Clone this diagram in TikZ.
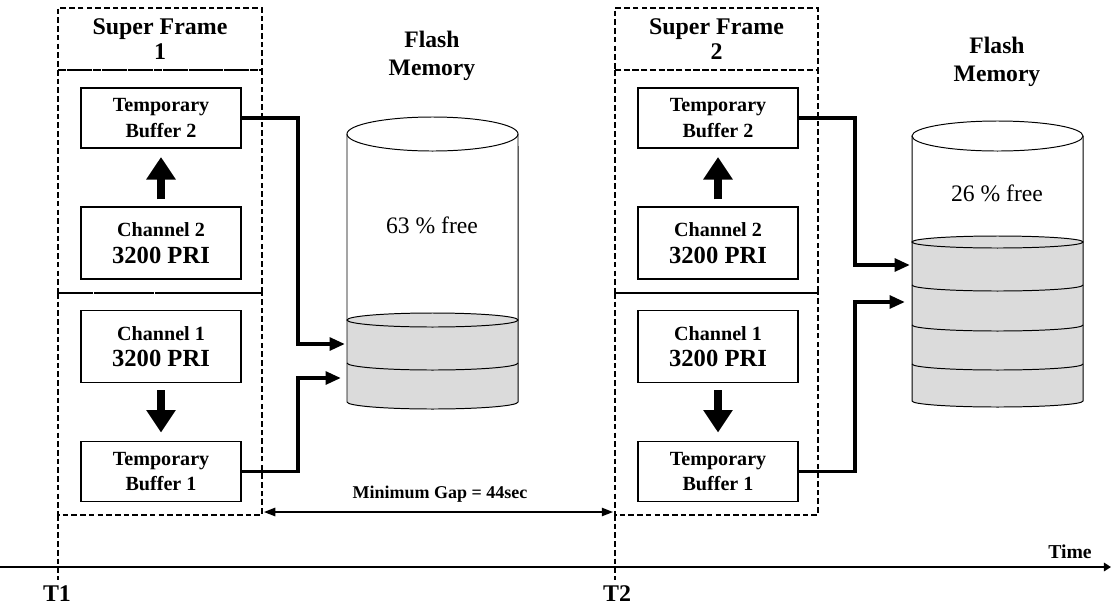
\documentclass[tikz,border=0pt]{standalone}
\usepackage{fontspec}
\setmainfont{Liberation Serif}
\usetikzlibrary{arrows.meta,calc}
\tikzset{
  unitbox/.style={draw,line width=0.8pt,minimum width=4cm,minimum height=1.5cm,align=center,
    font=\fontsize{14.3}{18}\selectfont\bfseries},
  chanbox/.style={unitbox,minimum height=1.8cm},
  framebox/.style={draw,line width=0.9pt,dash pattern=on 4pt off 2.2pt},
  frametitle/.style={framebox,minimum width=5.1cm,minimum height=1.55cm,align=center,
    font=\fontsize{17}{18}\selectfont\bfseries},
  feed/.style={line width=2.8pt,-{Triangle[length=11pt,width=9pt]}},
  bigarrow/.style={line width=5pt,-{Triangle[length=16pt,width=20pt]},shorten <=5pt,shorten >=6pt},
  memline/.style={line width=0.7pt},
  memfill/.style={fill=black!14},
  label/.style={align=center,font=\fontsize{16.8}{20}\selectfont\bfseries}
}
\newcommand{\pri}[1]{Channel #1\\[1pt]{\fontsize{17.5}{20}\selectfont 3200 PRI}}
\begin{document}
\begin{tikzpicture}[x=0.025cm,y=-0.025cm]
  \useasboundingbox (0,0) rectangle (1112,607);

  % super frame 1
  \node[frametitle] (sf1) at (160,39) {Super Frame\\1};
  \draw[framebox] (58,70) rectangle (262,293);
  \draw[framebox] (58,293) rectangle (262,515);
  \node[unitbox] (tb2a) at (161,118) {Temporary\\Buffer 2};
  \node[chanbox] (ch2a) at (161,243) {\pri{2}};
  \node[chanbox] (ch1a) at (161,346.5) {\pri{1}};
  \node[unitbox] (tb1a) at (161,471.5) {Temporary\\Buffer 1};
  \draw[bigarrow] (ch2a.north) -- (tb2a.south);
  \draw[bigarrow] (ch1a.south) -- (tb1a.north);

  % super frame 2
  \node[frametitle,minimum width=5.075cm] (sf2) at (716.5,39) {Super Frame\\2};
  \draw[framebox] (615,70) rectangle (818,293);
  \draw[framebox] (615,293) rectangle (818,515);
  \node[unitbox] (tb2b) at (718,118) {Temporary\\Buffer 2};
  \node[chanbox] (ch2b) at (718,243) {\pri{2}};
  \node[chanbox] (ch1b) at (718,346.5) {\pri{1}};
  \node[unitbox] (tb1b) at (718,471.5) {Temporary\\Buffer 1};
  \draw[bigarrow] (ch2b.north) -- (tb2b.south);
  \draw[bigarrow] (ch1b.south) -- (tb1b.north);

  % flash memory 1
  \node[label] (fm1) at (432,56) {Flash\\Memory};
  \fill[memfill] (347,320) -- (347,402) arc[start angle=180,end angle=360,x radius=2.1375cm,y radius=0.175cm]
    -- (518,320) arc[start angle=0,end angle=180,x radius=2.1375cm,y radius=0.175cm] -- cycle;
  \draw[memline] (347,134) -- (347,402) arc[start angle=180,end angle=360,x radius=2.1375cm,y radius=0.175cm] -- (518,134);
  \draw[memline] (432.5,134) ellipse[x radius=2.1375cm,y radius=0.425cm];
  \draw[memline] (432.5,320) ellipse[x radius=2.1375cm,y radius=0.175cm];
  \draw[memline] (347,363) arc[start angle=180,end angle=360,x radius=2.1375cm,y radius=0.175cm];
  \node[font=\fontsize{16.8}{20}\selectfont] (free1) at (432,225) {63 \% free};
  \coordinate (m1a) at (345,344);
  \coordinate (m1b) at (341,378);

  % flash memory 2
  \node[label] (fm2) at (997,62) {Flash\\Memory};
  \fill[memfill] (912,242) -- (912,401) arc[start angle=180,end angle=360,x radius=2.1375cm,y radius=0.15cm]
    -- (1083,242) arc[start angle=0,end angle=180,x radius=2.1375cm,y radius=0.15cm] -- cycle;
  \draw[memline] (912,136) -- (912,401) arc[start angle=180,end angle=360,x radius=2.1375cm,y radius=0.15cm] -- (1083,136);
  \draw[memline] (997.5,136) ellipse[x radius=2.1375cm,y radius=0.375cm];
  \draw[memline] (997.5,242) ellipse[x radius=2.1375cm,y radius=0.15cm];
  \foreach \y in {285,325,364}
    \draw[memline] (912,\y) arc[start angle=180,end angle=360,x radius=2.1375cm,y radius=0.15cm];
  \node[font=\fontsize{16.8}{20}\selectfont] (free2) at (997,193) {26 \% free};
  \coordinate (m2a) at (910,265);
  \coordinate (m2b) at (905,302);

  % buffers to memory
  \draw[feed] (tb2a.east) -- ++(56,0) |- (m1a);
  \draw[feed] (tb1a.east) -- ++(56,0) |- (m1b);
  \draw[feed] (tb2b.east) -- ++(56,0) |- (m2a);
  \draw[feed] (tb1b.east) -- ++(56,0) |- (m2b);

  % gap
  \coordinate (g1) at (264,512);
  \coordinate (g2) at (613,512);
  \draw[line width=1pt,{Triangle[length=8pt,width=6pt]}-{Triangle[length=8pt,width=6pt]}] (g1) -- (g2);
  \node[font=\fontsize{12.8}{14}\selectfont\bfseries] (gap) at (440,494) {Minimum Gap = 44sec};

  % time axis
  \coordinate (t0) at (0,567);
  \coordinate (tend) at (1111,567);
  \draw[line width=1.4pt,-{Triangle[length=5pt,width=6pt]}] (t0) -- (tend);
  \node[font=\fontsize{14}{16}\selectfont\bfseries] (time) at (1070,552) {Time};
  \coordinate (t1) at (58,580);
  \coordinate (t2) at (615,580);
  \draw[framebox] (58,515) -- (t1);
  \draw[framebox] (615,515) -- (t2);
  \node[font=\fontsize{17}{18}\selectfont\bfseries] (t1l) at (57,594) {T1};
  \node[font=\fontsize{17}{18}\selectfont\bfseries] (t2l) at (617,594) {T2};
\end{tikzpicture}
\end{document}
